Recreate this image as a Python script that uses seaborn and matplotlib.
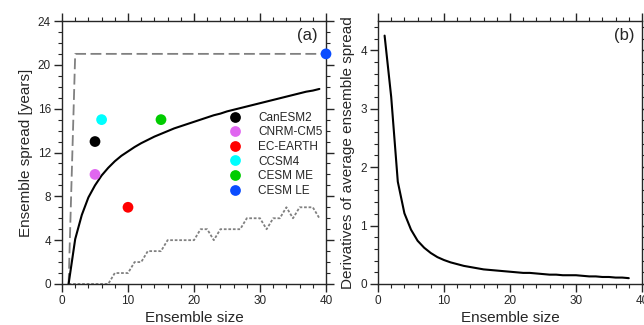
import numpy as np
import pandas as pd
import seaborn as sns
import matplotlib.pyplot as plt
from matplotlib.ticker import MultipleLocator

# ensemble sizes
sizes = list(range(1, 40))

# panel (a): average / max / min ensemble spread
mean_spread = [0, 4.1, 6.3, 7.9, 9.0, 9.9, 10.6, 11.2, 11.7, 12.1,
               12.5, 12.85, 13.15, 13.45, 13.7, 13.95, 14.2, 14.4, 14.6, 14.8,
               15.0, 15.2, 15.4, 15.55, 15.75, 15.9, 16.05, 16.2, 16.35, 16.5,
               16.65, 16.8, 16.95, 17.1, 17.25, 17.4, 17.55, 17.65, 17.8]
max_spread = [0] + [21] * 38
min_spread = [0, 0, 0, 0, 0, 0, 0, 1, 1, 1,
              2, 2, 3, 3, 3, 4, 4, 4, 4, 4,
              5, 5, 4, 5, 5, 5, 5, 6, 6, 6,
              5, 6, 6, 7, 6, 7, 7, 7, 6]
max_x_end = 40

# model ensembles
models = ['CanESM2', 'CNRM-CM5', 'EC-EARTH', 'CCSM4', 'CESM ME', 'CESM LE']
model_size = [5, 5, 10, 6, 15, 40]
model_spread = [13, 10, 7, 15, 15, 21]
model_colors = ['#000000', '#E066F0', '#FF0000', '#00FFFF', '#00CC00', '#0A4CFF']

# panel (b): derivative of the average spread
deriv_sizes = list(range(1, 39))
deriv = [4.25, 3.2, 1.75, 1.21, 0.93, 0.74, 0.62, 0.53, 0.46, 0.41,
         0.37, 0.34, 0.31, 0.29, 0.27, 0.25, 0.24, 0.23, 0.22, 0.21,
         0.20, 0.19, 0.19, 0.18, 0.17, 0.16, 0.16, 0.15, 0.15, 0.15,
         0.14, 0.13, 0.13, 0.12, 0.12, 0.11, 0.11, 0.10]

sns.set_style("ticks")
plt.rcParams['font.family'] = ['Liberation Sans', 'DejaVu Sans']

fig = plt.figure(figsize=(6.44, 3.25), dpi=100)
ax1 = fig.add_axes([62/644, 41/325, 264/644, 263/325])
ax2 = fig.add_axes([378/644, 41/325, 264/644, 263/325])

gray = '#808080'
sns.lineplot(x=sizes + [max_x_end], y=max_spread + [21], ax=ax1, color=gray,
             linestyle=(0, (6, 2.5)), linewidth=1.3)
sns.lineplot(x=sizes, y=min_spread, ax=ax1, color=gray,
             linestyle=(0, (1.5, 1)), linewidth=1.3)
sns.lineplot(x=sizes, y=mean_spread, ax=ax1, color='black', linewidth=1.5)

mdf = pd.DataFrame({'size': model_size, 'spread': model_spread, 'model': models})
sns.scatterplot(data=mdf, x='size', y='spread', hue='model', hue_order=models,
                palette=model_colors, s=60, edgecolor='none', ax=ax1,
                clip_on=False, zorder=5)
ax1.legend(loc='upper left', bbox_to_anchor=(0.611, 0.655), frameon=False,
           fontsize=8.5, handletextpad=0.95, labelspacing=0.22,
           markerscale=1.0, borderaxespad=0, borderpad=0)

sns.lineplot(x=deriv_sizes, y=deriv, ax=ax2, color='black', linewidth=1.5)

ax1.set_xlim(0, 40)
ax1.set_ylim(0, 24)
ax1.xaxis.set_major_locator(MultipleLocator(10))
ax1.xaxis.set_minor_locator(MultipleLocator(2))
ax1.yaxis.set_major_locator(MultipleLocator(4))
ax1.yaxis.set_minor_locator(MultipleLocator(1))
ax1.set_xlabel('Ensemble size', fontsize=11, labelpad=2.5)
ax1.set_ylabel('Ensemble spread [years]', fontsize=11, labelpad=3.5)
ax1.text(0.97, 0.975, '(a)', transform=ax1.transAxes, ha='right', va='top', fontsize=12)

ax2.set_xlim(0, 40)
ax2.set_ylim(0, 4.5)
ax2.xaxis.set_major_locator(MultipleLocator(10))
ax2.xaxis.set_minor_locator(MultipleLocator(2))
ax2.yaxis.set_major_locator(MultipleLocator(1))
ax2.yaxis.set_minor_locator(MultipleLocator(0.2))
ax2.set_xlabel('Ensemble size', fontsize=11, labelpad=2.5)
ax2.set_ylabel('Derivatives of average ensemble spread', fontsize=11, labelpad=3.5)
ax2.text(0.97, 0.975, '(b)', transform=ax2.transAxes, ha='right', va='top', fontsize=12)

for ax in (ax1, ax2):
    for sp in ax.spines.values():
        sp.set_visible(True)
        sp.set_linewidth(1.0)
    # ticks stick out on every side
    ax.tick_params(which='both', direction='out', top=True, right=True, labelsize=8.5)
    ax.tick_params(which='major', length=5.5, width=1.0, pad=2.5)
    ax.tick_params(which='minor', length=3, width=0.8)

fig.savefig('out.png', dpi=100)
